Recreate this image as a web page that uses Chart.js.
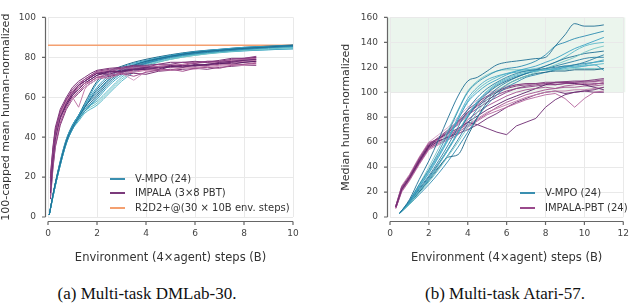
<!DOCTYPE html>
<html>
<head>
<meta charset="utf-8">
<script src="https://cdn.jsdelivr.net/npm/chart.js@4.4.0/dist/chart.umd.min.js"></script>
<style>
  body { margin: 0; background: #fff; width: 640px; height: 305px; position: relative; overflow: hidden; font-family: "DejaVu Sans", sans-serif; }
  canvas { position: absolute; top: 0; }
  .legend { position: absolute; font-size: 10px; color: #333; }
  .legend .row { position: absolute; white-space: nowrap; height: 12px; line-height: 12px; }
  .legend .swatch { position: absolute; left: 0; top: 5px; width: 15px; height: 2px; }
  .legend .txt { position: absolute; left: 25px; top: 0; }
  .caption { position: absolute; top: 284px; font-family: "Liberation Serif", serif; font-size: 17px; color: #111; text-align: center; white-space: nowrap; }
</style>
</head>
<body>
<canvas id="dmlab" width="320" height="270" style="left:0"></canvas>
<canvas id="atari" width="320" height="270" style="left:320px"></canvas>

<div class="legend" style="left:110px;top:173px">
  <div class="row" style="top:0"><div class="swatch" style="background:#3a8fb0"></div><span class="txt">V-MPO (24)</span></div>
  <div class="row" style="top:14px"><div class="swatch" style="background:#7b3a7b"></div><span class="txt">IMPALA (3×8 PBT)</span></div>
  <div class="row" style="top:29px"><div class="swatch" style="background:#f4a070"></div><span class="txt">R2D2+@(30 × 10B env. steps)</span></div>
</div>
<div class="legend" style="left:520px;top:187px">
  <div class="row" style="top:0"><div class="swatch" style="background:#3a8fb0"></div><span class="txt">V-MPO (24)</span></div>
  <div class="row" style="top:15px"><div class="swatch" style="background:#9a4a8c"></div><span class="txt">IMPALA-PBT (24)</span></div>
</div>

<div class="caption" style="left:40px;width:214px">(a) Multi-task DMLab-30.</div>
<div class="caption" style="left:412px;width:186px">(b) Multi-task Atari-57.</div>

<script>
// ---- DMLab-30 (left) ----
const dmlabVmpoSteps = [0.05, 0.25, 0.5, 0.75, 1.0, 1.25, 1.5, 2.0, 2.5, 3.0, 3.5, 4.0, 5.0, 6.0, 7.0, 8.0, 9.0, 10.0];
const dmlabVmpoRuns = [
  [1, 14, 27, 38, 45, 50, 55, 64, 70, 74, 76, 78, 80.5, 82.5, 83.5, 84.5, 85.2, 86],
  [1, 13, 26, 37, 44, 49, 53, 60, 67, 72, 75, 77, 80, 81.8, 83, 84, 84.8, 85.5],
  [1, 14, 28, 39, 46, 51, 56, 67, 72, 75, 77, 78.5, 81, 82.8, 84, 85, 85.5, 86],
  [1, 13, 26, 37, 45, 50, 54, 58, 64, 70, 74, 76.5, 79.5, 81.5, 82.8, 83.8, 84.5, 85],
  [1, 14, 27, 38, 45, 50, 55, 62, 69, 73, 75.5, 77.5, 80.5, 82, 83.3, 84.2, 85, 85.6],
  [1, 13, 27, 38, 45, 49, 53, 57, 63, 69, 73, 76, 79, 81, 82.5, 83.5, 84.2, 84.8],
  [1, 14, 28, 39, 46, 51, 57, 68, 73, 75.5, 77.5, 79, 81.3, 83, 84, 85, 85.6, 86.2],
  [1, 13, 26, 37, 44, 49, 53, 59, 66, 71, 74.5, 77, 80, 81.5, 82.6, 83.3, 83.8, 84.2],
  [1, 14, 27, 38, 45, 50, 54, 61, 68, 72.5, 75, 77, 80.2, 82.2, 83.4, 84.4, 85, 85.4],
  [1, 13, 27, 38, 45, 50, 55, 63, 69, 73, 76, 78, 80.8, 82.5, 83.6, 84.6, 85.3, 85.8],
  [1, 14, 27, 38, 46, 51, 56, 65, 71, 74, 76.5, 78, 80.7, 82.7, 83.8, 84.8, 85.4, 86],
  [1, 13, 26, 37, 44, 48, 52, 56, 62, 68, 72.5, 75.5, 79, 81, 82.3, 83.2, 83.8, 84.3]
];
const dmlabImpalaSteps = [0.1, 0.2, 0.3, 0.5, 0.75, 1.0, 1.25, 1.5, 1.75, 2.0, 2.5, 3.0, 3.5, 4.0, 4.5, 5.0, 5.5, 6.0, 6.5, 7.0, 7.5, 8.0, 8.5];
const dmlabImpalaRuns = [
  [12, 28, 39, 50, 57, 62, 66, 68, 70, 72, 73, 72.5, 74, 75, 74, 76, 75, 76.5, 76, 77.5, 78, 78.5, 79],
  [18, 33, 43, 53, 59, 64, 67, 69, 71, 73, 74, 74.5, 75.5, 75, 76.5, 76.5, 77.5, 77, 78, 78, 79, 79.5, 80.5],
  [10, 25, 36, 47, 55, 60, 63, 66, 68, 70, 71, 72, 70.5, 72.5, 73.5, 74, 73, 74.5, 75, 74.5, 76, 76.5, 77],
  [20, 35, 45, 54, 60, 65, 68, 70, 72, 73.5, 74.5, 75, 76, 76, 76.5, 77.5, 77.5, 78, 77.5, 78.5, 79.5, 79.5, 80],
  [14, 29, 40, 51, 58, 62, 65, 67, 68, 70, 69.5, 72, 72.5, 73.5, 74, 73.5, 75, 75, 75.5, 76, 76.5, 76.5, 77.5],
  [16, 31, 41, 50, 56, 61, 64, 67, 69, 71, 73, 73, 74, 74, 73.5, 75.5, 75, 76, 76.5, 77, 76.5, 77.5, 78],
  [22, 34, 44, 52, 58, 63, 66, 69, 71, 72.5, 73.5, 74.5, 75, 75.5, 75.5, 76, 76.5, 77.5, 78, 78, 78.5, 79, 79.5],
  [11, 27, 38, 48, 55, 59, 63, 65, 67, 69, 71, 72, 68.5, 73, 73.5, 74, 74.5, 74, 75, 75.5, 76, 76, 76.5],
  [15, 30, 42, 52, 59, 63, 66, 68, 70, 72, 71.5, 73.5, 74, 74.5, 75, 75.5, 76, 75.5, 76.5, 77, 77.5, 78.5, 79],
  [13, 29, 40, 49, 56, 61, 65, 67, 69, 71, 72.5, 73, 73.5, 74, 75, 75, 75.5, 76, 76, 76.5, 77, 77.5, 78],
  [19, 32, 42, 51, 57, 62, 66, 68, 70.5, 72, 73, 74, 74.5, 75, 75.5, 76, 76, 77, 77.5, 77.5, 78, 79, 80],
  [9, 24, 35, 46, 54, 59, 62, 65, 67, 69, 70.5, 71.5, 72, 71.5, 73, 73.5, 74, 74.5, 74, 75, 75.5, 76, 76],
  [17, 31, 41, 51, 58, 60, 55, 64, 68, 70, 72, 72.5, 73, 74, 74.5, 75, 75.5, 76, 76.5, 77, 77.5, 78, 78.5]
];
const r2d2Steps = [0, 10];
const r2d2Level = [86, 86];

// ---- Atari-57 (right) ----
const atariVmpoSteps = [0.5, 1, 1.5, 2, 2.5, 3, 3.5, 4, 4.5, 5, 5.5, 6, 6.5, 7, 7.5, 8, 8.5, 9, 9.5, 10, 10.5, 11];
const atariVmpoRuns = [
  [3, 14, 30, 45, 62, 80, 97, 109, 112, 117, 122, 124, 125, 126, 127, 128, 137, 146, 155, 153, 153, 154],
  [3, 13, 26, 38, 52, 68, 85, 100, 108, 113, 117, 119, 120, 122, 125, 130, 137, 140, 143, 145, 147, 149],
  [3, 12, 24, 35, 48, 62, 78, 92, 100, 106, 110, 114, 117, 119, 121, 124, 127, 131, 135, 138, 141, 144],
  [3, 11, 21, 30, 42, 55, 68, 82, 93, 101, 107, 111, 114, 116, 117, 118, 118, 119, 120, 121, 122, 123],
  [3, 12, 23, 33, 45, 58, 72, 86, 96, 103, 108, 112, 115, 117, 118, 119, 120, 121, 122, 124, 127, 130],
  [3, 10, 19, 28, 38, 49, 60, 72, 84, 94, 101, 106, 110, 113, 116, 119, 122, 125, 128, 132, 135, 137],
  [3, 11, 20, 30, 40, 48, 50, 65, 80, 92, 100, 106, 110, 113, 115, 116, 117, 117, 118, 118, 118, 119],
  [3, 13, 25, 37, 50, 64, 80, 95, 104, 110, 113, 115, 116, 117, 118, 118, 119, 120, 121, 122, 124, 126],
  [3, 12, 22, 32, 43, 55, 68, 80, 91, 99, 105, 109, 112, 115, 118, 121, 124, 127, 129, 131, 132, 133],
  [3, 10, 18, 26, 35, 45, 56, 68, 80, 90, 98, 104, 108, 112, 114, 116, 118, 120, 122, 123, 124, 125],
  [3, 11, 21, 31, 42, 54, 67, 81, 92, 100, 106, 110, 113, 115, 117, 118, 119, 121, 120, 121, 122, 117.5],
  [3, 12, 24, 36, 49, 63, 78, 93, 102, 108, 112, 115, 117, 118, 119, 121, 124, 128, 133, 137, 139, 140],
  [3, 11, 20, 29, 39, 50, 62, 75, 87, 96, 103, 108, 112, 115, 117, 119, 121, 123, 125, 127, 128, 128],
  [3, 13, 26, 40, 55, 70, 86, 101, 109, 114, 117, 118, 118, 118, 118, 118, 118, 118, 119, 119, 119, 119]
];
const atariImpalaSteps = [0.3, 0.6, 1, 1.5, 2, 2.5, 3, 3.5, 4, 4.5, 5, 5.5, 6, 6.5, 7, 7.5, 8, 8.5, 9, 9.5, 10, 10.5, 11];
const atariImpalaRuns = [
  [8, 22, 31, 44, 56, 61, 64, 69, 76, 74, 71, 68, 66, 73, 76, 79, 88, 94, 98, 100, 101, 102, 104],
  [9, 24, 33, 47, 59, 63, 68, 74, 82, 87, 92, 96, 100, 103, 105, 106, 107, 107.5, 108, 108, 109, 109, 110],
  [7, 21, 30, 43, 55, 60, 65, 70, 78, 84, 89, 93, 97, 100, 102, 103, 104, 103, 105, 106, 107, 106, 108],
  [8, 23, 32, 46, 58, 64, 70, 77, 86, 92, 97, 101, 104, 106, 107, 107, 108, 108, 108.5, 109, 109, 110, 111],
  [9, 25, 34, 48, 60, 62, 66, 70, 74, 79, 84, 87, 90, 93, 96, 98, 100, 101, 101, 102, 102, 103, 104],
  [8, 22, 31, 45, 57, 63, 67, 71, 76, 81, 86, 90, 94, 97, 100, 103, 106, 108, 108, 107, 106, 104, 102],
  [7, 20, 29, 42, 54, 58, 62, 66, 72, 77, 82, 85, 88, 91, 94, 96, 98, 99, 95, 88, 95, 100, 101],
  [8, 23, 33, 47, 60, 66, 72, 80, 88, 94, 99, 102, 105, 106, 106.5, 107, 107, 107.5, 108, 108, 108.5, 108, 109],
  [9, 24, 32, 45, 56, 61, 64, 67, 70, 74, 79, 83, 88, 92, 95, 98, 100, 101, 99, 100, 101, 100, 100],
  [8, 22, 31, 44, 57, 62, 68, 75, 83, 89, 94, 98, 101, 103, 104, 105, 106, 106, 107, 107, 106, 107, 107],
  [7, 21, 30, 43, 55, 59, 63, 68, 73, 78, 83, 88, 92, 95, 98, 100, 102, 103, 104, 104, 105, 105, 106],
  [8, 23, 32, 46, 58, 63, 69, 76, 84, 90, 96, 100, 103, 105, 106, 107, 107, 106, 107, 108, 108, 108.5, 109]
];
const superhumanBand = [100, 160];

const tealShades = ['#1f6f94', '#2b8bb0', '#3aa3c4', '#5ab9c9', '#2a7fa3', '#74c6c6', '#1c6485', '#48abc6'];
const purpleShades = ['#6d2a72', '#8a3c82', '#a3508f', '#7c3477', '#c27aa8', '#5a1f66', '#b4639c', '#d3a0c4'];

function runs(steps, rows, shades, width, smooth) {
  return rows.map((ys, i) => ({
    data: ys.map((y, j) => ({x: steps[j], y})),
    borderColor: shades[i % shades.length],
    borderWidth: width,
    pointRadius: 0,
    fill: false,
    cubicInterpolationMode: smooth ? 'monotone' : 'default',
    tension: 0
  }));
}

// offset seaborn-style spines with outward ticks
const spines = {
  id: 'spines',
  beforeDraw(chart, args, opts) {
    if (!opts.band) return;
    const {ctx, chartArea: a, scales: {y}} = chart;
    ctx.save();
    ctx.fillStyle = '#ebf5ed';
    const top = y.getPixelForValue(opts.band[1]), bot = y.getPixelForValue(opts.band[0]);
    ctx.fillRect(a.left - 2, top, a.right - a.left + 4, bot - top);
    ctx.restore();
  },
  afterDraw(chart) {
    const {ctx, chartArea: a, scales: {x, y}} = chart;
    ctx.save();
    ctx.strokeStyle = '#666';
    ctx.lineWidth = 1.2;
    const sx = Math.round(a.left - 3) + 0.5, sy = Math.round(a.bottom + 4) + 0.5;
    ctx.beginPath();
    ctx.moveTo(sx, y.getPixelForValue(y.max));
    ctx.lineTo(sx, y.getPixelForValue(y.min));
    ctx.moveTo(x.getPixelForValue(x.min), sy);
    ctx.lineTo(x.getPixelForValue(x.max), sy);
    y.ticks.forEach(t => { const p = y.getPixelForValue(t.value); ctx.moveTo(sx, p); ctx.lineTo(sx - 3.5, p); });
    x.ticks.forEach(t => { const p = x.getPixelForValue(t.value); ctx.moveTo(p, sy); ctx.lineTo(p, sy + 3.5); });
    ctx.stroke();
    ctx.restore();
  }
};

function makeChart(id, datasets, o) {
  return new Chart(document.getElementById(id), {
    type: 'line',
    data: {datasets},
    options: {
      responsive: false,
      animation: false,
      devicePixelRatio: 1,
      layout: {padding: {top: 6, right: o.padRight, left: o.padLeft, bottom: 0}},
      plugins: {legend: {display: false}, tooltip: {enabled: false}, spines: {band: o.band}},
      scales: {
        x: {
          type: 'linear', min: 0, max: o.xMax,
          afterFit: s => { s.height = 53; },
          border: {display: false},
          grid: {color: '#e9e9e9', drawTicks: false},
          ticks: {stepSize: 2, padding: 11, color: '#444', font: {family: 'DejaVu Sans', size: 9}, maxRotation: 0},
          title: {display: true, text: 'Environment (4×agent) steps (B)', color: '#333', font: {family: 'DejaVu Sans', size: 11.5}, padding: {top: 4, bottom: 5}}
        },
        y: {
          min: 0, max: o.yMax,
          afterFit: s => { s.width = o.yWidth; },
          border: {display: false},
          grid: {color: '#e9e9e9', drawTicks: false},
          ticks: {stepSize: 20, padding: 12, color: '#444', font: {family: 'DejaVu Sans', size: 9}},
          title: {display: true, text: o.yTitle, color: '#333', font: {family: 'DejaVu Sans', size: 11}, padding: {top: 0, bottom: 0}}
        }
      }
    },
    plugins: [spines]
  });
}

makeChart('dmlab', [
  ...runs(dmlabImpalaSteps, dmlabImpalaRuns, purpleShades, 1, false),
  ...runs(dmlabVmpoSteps, dmlabVmpoRuns, tealShades, 1, true),
  {data: r2d2Steps.map((x, i) => ({x, y: r2d2Level[i]})), borderColor: '#f4a070', borderWidth: 1.5, pointRadius: 0}
], {xMax: 10, yMax: 100, yWidth: 48, padLeft: 0, padRight: 27, yTitle: '100-capped mean human-normalized'});

makeChart('atari', [
  ...runs(atariVmpoSteps, atariVmpoRuns, tealShades, 0.9, true),
  ...runs(atariImpalaSteps, atariImpalaRuns, purpleShades, 0.9, false)
], {xMax: 12, yMax: 160, yWidth: 50, padLeft: 20, padRight: 7, band: superhumanBand, yTitle: 'Median human-normalized'});
</script>
</body>
</html>
